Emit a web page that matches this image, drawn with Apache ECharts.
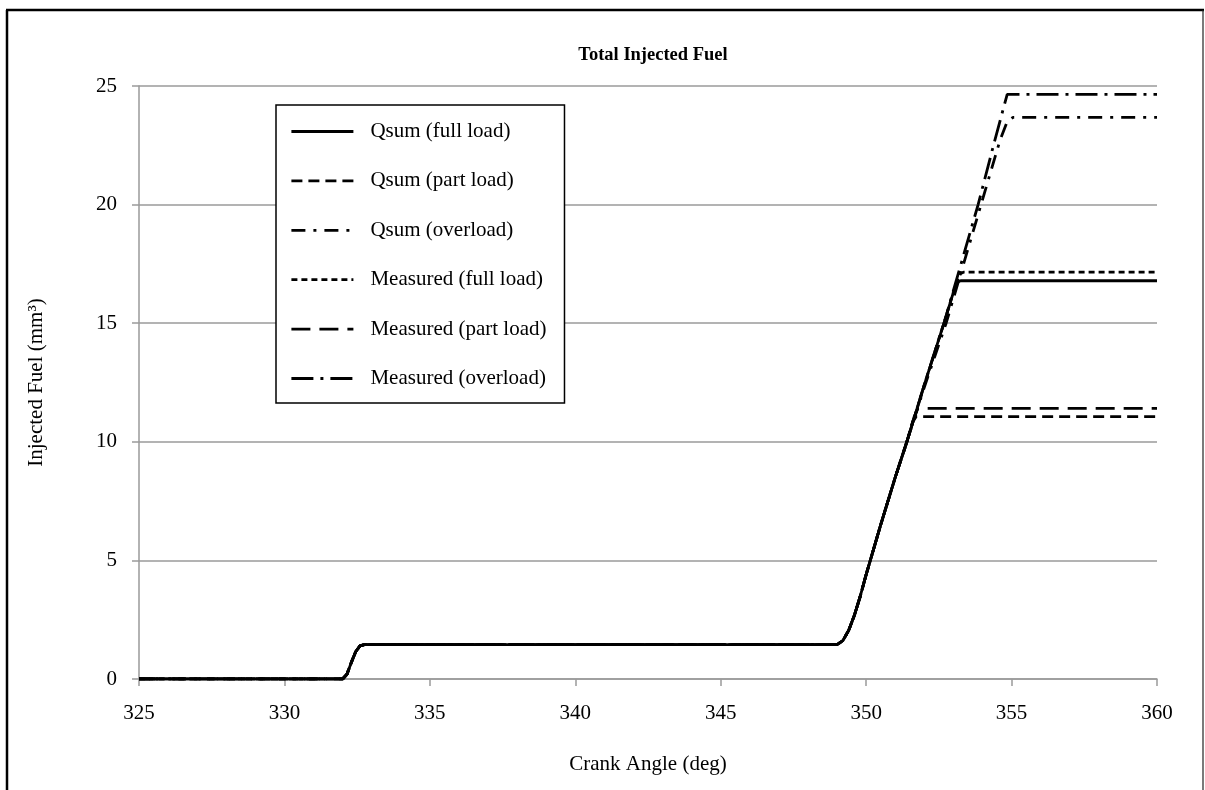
<!DOCTYPE html>
<html>
<head>
<meta charset="utf-8">
<script src="https://cdn.jsdelivr.net/npm/echarts@6/dist/echarts.min.js"></script>
<style>
  html, body { margin: 0; padding: 0; background: #fff; }
  #chart { width: 1205px; height: 790px; }
</style>
</head>
<body>
<div id="chart"></div>
<script>
// ---- Data (crank angle in deg, injected fuel in mm³) ----
const seriesNames = [
  'Qsum (full load)',
  'Qsum (part load)',
  'Qsum (overload)',
  'Measured (full load)',
  'Measured (part load)',
  'Measured (overload)'
];

// shared pilot + start of main ramp
const commonStart = [
  [325, 0], [332.0, 0], [332.15, 0.2], [332.3, 0.7], [332.45, 1.15], [332.6, 1.4], [332.75, 1.45],
  [349.0, 1.45], [349.2, 1.62], [349.4, 2.05], [349.6, 2.7], [349.8, 3.5], [350.0, 4.4],
  [350.5, 6.5], [351.0, 8.5], [351.4, 10.0]
];

const qsumFullTail = [[352.0, 12.4], [352.7, 15.1], [353.0, 16.3], [353.12, 16.72], [353.25, 16.79], [360, 16.79]];
const qsumPartTail = [[351.6, 10.85], [351.72, 11.06], [360, 11.06]];
const qsumOverTail = [[352.0, 12.3], [352.75, 15.0], [353.95, 20.0], [354.6, 22.7], [354.85, 23.5], [355.05, 23.68], [360, 23.68]];
const measFullTail = [[352.0, 12.4], [352.7, 15.1], [353.1, 16.7], [353.25, 17.1], [353.35, 17.15], [360, 17.15]];
const measPartTail = [[351.65, 11.05], [351.78, 11.41], [360, 11.41]];
const measOverTail = [[352.0, 12.4], [352.7, 15.1], [353.85, 20.0], [354.4, 22.6], [354.85, 24.65], [360, 24.65]];

const xTicks = { min: 325, max: 360, interval: 5 };
const yTicks = { min: 0, max: 25, interval: 5 };

const seriesData = [
  commonStart.concat(qsumFullTail),
  commonStart.concat(qsumPartTail),
  commonStart.concat(qsumOverTail),
  commonStart.concat(measFullTail),
  commonStart.concat(measPartTail),
  commonStart.concat(measOverTail)
];

const dashes = [
  'solid',
  [11, 6],
  [14, 8, 3, 8],
  [6, 4],
  [19, 9],
  [22, 7, 3, 7]
];

const FONT = "'Liberation Serif', 'Times New Roman', serif";

const chart = echarts.init(document.getElementById('chart'), null, { renderer: 'canvas' });

const series = seriesNames.map((name, i) => ({
  name: name,
  type: 'line',
  data: seriesData[i],
  symbol: 'none',
  smooth: false,
  animation: false,
  color: '#000',
  lineStyle: { color: '#000', width: 2.8, type: dashes[i] },
  z: 3 + i
}));

chart.setOption({
  backgroundColor: '#fff',
  animation: false,
  title: {
    text: 'Total Injected Fuel',
    left: 648, top: 41, textAlign: 'center',
    textStyle: { fontFamily: FONT, fontSize: 18.5, fontWeight: 'bold', color: '#000' }
  },
  grid: { left: 139, right: 48, top: 86, bottom: 111, containLabel: false },
  legend: {
    orient: 'vertical',
    left: 276, top: 105,
    data: seriesNames,
    itemWidth: 62, itemHeight: 20, itemGap: 28.4,
    padding: [16, 18, 14, 14],
    backgroundColor: '#fff',
    borderColor: '#000', borderWidth: 1.5,
    itemStyle: { color: 'transparent', borderWidth: 0, opacity: 0 },
    lineStyle: { width: 2.8 },
    textStyle: { fontFamily: FONT, fontSize: 21, color: '#000', lineHeight: 20, padding: [0, 0, 0, 12] },
    selectedMode: false,
    z: 20
  },
  xAxis: {
    type: 'value',
    min: xTicks.min, max: xTicks.max, interval: xTicks.interval,
    name: 'Crank Angle (deg)', nameLocation: 'middle', nameGap: 75,
    nameTextStyle: { fontFamily: FONT, fontSize: 21, color: '#000' },
    axisLine: { show: true, lineStyle: { color: '#9a9a9a', width: 1.5 } },
    axisTick: { show: true, inside: false, length: 7, lineStyle: { color: '#9a9a9a', width: 1.5 } },
    axisLabel: { fontFamily: FONT, fontSize: 21, color: '#000', margin: 24 },
    splitLine: { show: false }
  },
  yAxis: {
    type: 'value',
    min: yTicks.min, max: yTicks.max, interval: yTicks.interval,
    name: 'Injected Fuel (mm³)', nameLocation: 'middle', nameGap: 92, nameRotate: 90,
    nameTextStyle: { fontFamily: FONT, fontSize: 21, color: '#000' },
    axisLine: { show: true, lineStyle: { color: '#9a9a9a', width: 1.5 } },
    axisTick: { show: true, inside: false, length: 7, lineStyle: { color: '#9a9a9a', width: 1.5 } },
    axisLabel: { fontFamily: FONT, fontSize: 21, color: '#000', margin: 22 },
    splitLine: { show: true, lineStyle: { color: '#9a9a9a', width: 1.5 } }
  },
  graphic: [
    { type: 'line', shape: { x1: 7, y1: 10, x2: 7, y2: 800 }, style: { stroke: '#000', lineWidth: 2.5 }, silent: true },
    { type: 'line', shape: { x1: 6, y1: 10, x2: 1204, y2: 10 }, style: { stroke: '#000', lineWidth: 2.5 }, silent: true },
    { type: 'line', shape: { x1: 1203, y1: 10, x2: 1203, y2: 800 }, style: { stroke: '#222', lineWidth: 1.2 }, silent: true }
  ],
  series: series
});
</script>
</body>
</html>
